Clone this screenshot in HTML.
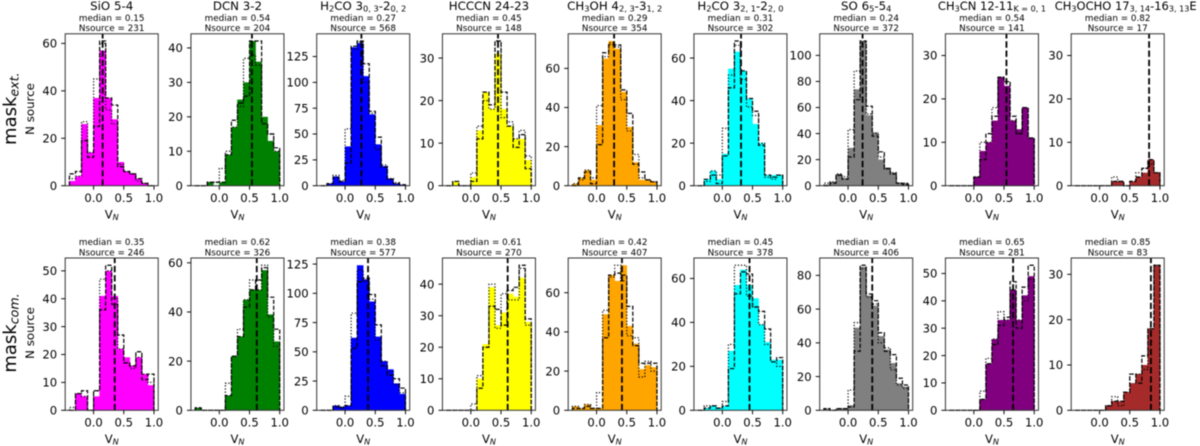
<!DOCTYPE html>
<html lang="en">
<head>
<meta charset="utf-8">
<title>V_N histograms by molecular line</title>
<style>
html,body{margin:0;padding:0;background:#fff;width:1200px;height:446px;overflow:hidden}
svg{display:block;filter:blur(0.5px)}
text{font-family:"DejaVu Sans","Liberation Sans",sans-serif;fill:#000}
</style>
</head>
<body>
<svg id="chart" xmlns="http://www.w3.org/2000/svg" width="1200" height="446" viewBox="0 0 1200 446"></svg>
<script>
// ---- categories ----
const lineTitles = ["SiO 5-4","DCN 3-2","H_{2}CO 3_{0, 3}-2_{0, 2}","HCCCN 24-23","CH_{3}OH 4_{2, 3}-3_{1, 2}","H_{2}CO 3_{2, 1}-2_{2, 0}","SO 6_{5}-5_{4}","CH_{3}CN 12-11_{K = 0, 1}","CH_{3}OCHO 17_{3, 14}-16_{3, 13}E"];
const lineColors = ["magenta","green","blue","yellow","orange","cyan","gray","purple","brown"];
const binEdges = [-0.4,-0.3,-0.2,-0.1,0,0.1,0.2,0.3,0.4,0.5,0.6,0.7,0.8,0.9,1.0];
const xTicks = [0,0.5,1];
const xTickLabels = ["0.0","0.5","1.0"];

// ---- printed values ----
const topMedians = [0.15,0.54,0.27,0.45,0.29,0.31,0.24,0.54,0.82];
const topNsource = [231,204,568,148,354,302,372,141,17];
const bottomMedians = [0.35,0.62,0.38,0.61,0.42,0.45,0.4,0.65,0.85];
const bottomNsource = [246,326,577,270,407,378,406,281,83];

// ---- y tick labels ----
const topYTicks = [[0,20,40,60],[0,10,20,30,40],[0,25,50,75,100,125],[0,10,20,30],[0,20,40,60],[0,20,40,60],[0,20,40,60,80,100],[0,10,20,30],[0,10,20,30]];
const bottomYTicks = [[0,10,20,30,40,50],[0,20,40,60],[0,25,50,75,100,125],[0,10,20,30,40],[0,20,40,60],[0,20,40,60],[0,20,40,60,80],[0,10,20,30,40,50],[0,10,20,30]];
const topYFloor = [0,0,0,0,0,0,0,35,35];
const bottomYFloor = [0,0,0,0,0,0,0,0,0];

// ---- top row counts (mask ext.) ----
const topFilled = [
 [2,4,26,14,37,57,37,28,10,6,5,3,1,0],
 [0,0,1,0,1,9,17,25,30,42,36,20,13,10],
 [0,2,9,4,38,134,138,106,69,40,19,7,2,1],
 [0,1,0,0,2,13,22,18,31,18,14,11,11,6],
 [1,4,8,3,31,65,74,70,48,30,12,3,3,2],
 [0,3,7,3,15,55,63,54,41,29,20,5,5,5],
 [1,3,9,6,29,74,110,54,41,20,14,10,2,2],
 [0,0,0,0,2,8,10,15,25,23,15,13,18,11],
 [0,0,0,0,0,0,1,1,0,1,2,3,6,3]
];
const topDashed = [
 [5,6,19,12,25,61,37,34,8,6,5,3,1,0],
 [0,0,1,1,1,9,19,24,26,42,42,18,15,11],
 [0,2,8,4,22,135,140,118,72,47,18,6,2,1],
 [0,1,0,0,1,11,22,19,34,22,14,9,12,4],
 [0,4,7,1,21,68,72,72,49,37,11,7,3,2],
 [0,3,5,1,14,46,68,54,41,35,19,5,4,5],
 [0,2,8,5,22,66,111,61,38,26,13,9,2,1],
 [0,0,0,0,2,6,12,16,25,24,16,12,18,11],
 [0,0,0,0,0,0,1,1,0,1,2,4,6,3]
];
const topDotted = [
 [3,4,27,14,45,60,32,26,9,6,5,2,1,0],
 [0,0,1,1,5,10,17,23,37,38,35,18,15,10],
 [0,2,10,5,55,132,139,100,70,35,20,7,3,1],
 [0,1,0,0,3,14,20,18,34,16,15,11,13,7],
 [1,3,8,4,41,66,73,71,44,28,16,4,3,2],
 [0,2,7,5,27,52,66,50,37,33,20,4,3,5],
 [2,3,9,7,43,88,110,55,40,22,13,10,2,2],
 [0,0,0,0,2,10,10,18,25,24,15,12,18,11],
 [0,0,0,0,0,0,2,1,0,1,3,4,5,3]
];

// ---- bottom row counts (mask com.) ----
const bottomFilled = [
 [0,6,5,0,5,41,50,41,22,19,16,19,13,9],
 [1,0,0,0,0,6,22,30,45,49,49,57,39,28],
 [0,0,4,3,4,62,124,112,93,63,42,35,23,14],
 [0,0,0,0,0,10,21,39,27,31,37,36,42,28],
 [2,1,3,1,1,49,69,66,74,43,34,21,23,22],
 [0,1,2,1,2,27,57,64,57,51,39,31,23,23],
 [1,0,1,1,3,49,85,68,62,44,36,28,16,14],
 [0,0,0,0,0,4,17,26,33,33,44,33,42,49],
 [0,0,0,0,0,1,2,2,4,6,8,10,18,32]
];
const bottomDashed = [
 [0,6,7,0,7,36,52,38,27,17,16,21,11,13],
 [1,0,0,0,0,6,22,30,42,49,53,58,46,33],
 [0,0,3,2,4,53,110,113,99,73,38,30,27,19],
 [0,0,0,0,0,7,20,33,32,27,38,39,46,29],
 [1,1,2,1,1,37,69,70,69,53,33,24,24,24],
 [0,1,2,1,2,19,53,63,62,47,45,37,22,24],
 [1,0,1,1,2,35,86,69,65,46,35,33,19,15],
 [0,0,0,0,0,4,17,24,31,34,47,30,45,53],
 [0,0,0,0,0,1,2,2,4,8,6,12,18,32]
];
const bottomDotted = [
 [1,6,5,0,7,47,50,40,22,17,15,19,13,10],
 [1,0,0,0,0,11,22,33,45,53,49,59,38,26],
 [0,0,4,3,12,83,120,110,95,60,42,33,22,15],
 [0,0,0,0,2,11,20,40,26,37,35,35,45,27],
 [2,1,3,1,9,51,68,74,66,38,37,17,25,20],
 [0,2,2,1,4,30,66,66,52,47,39,30,22,20],
 [1,0,1,1,12,52,84,67,63,40,37,24,15,13],
 [0,0,0,0,0,7,19,26,36,33,44,33,40,48],
 [0,0,0,0,0,1,3,1,4,8,8,9,18,32]
];

const SVGNS = "http://www.w3.org/2000/svg";
const chart = document.getElementById("chart");
const AX_LEFT = 65.2, AX_STEP = 125.75, AX_W = 93;
const X_MIN = -0.47, X_MAX = 1.07;
const TICK_FONT = 11.6;

function node(parent, tag, attrs) {
  const el = document.createElementNS(SVGNS, tag);
  for (const k in attrs) el.setAttribute(k, attrs[k]);
  parent.appendChild(el);
  return el;
}

// write "a_{b}c" as text with lowered, smaller tspans
function richText(el, str, size, italicSub) {
  const parts = str.split(/(_\{[^}]*\})/).filter(Boolean);
  let lowered = false;
  parts.forEach(function (p) {
    const span = document.createElementNS(SVGNS, "tspan");
    const isSub = p.indexOf("_{") === 0;
    span.textContent = isSub ? p.slice(2, -1) : p;
    const shift = size * 0.15;
    if (isSub) {
      span.setAttribute("font-size", (size * 0.7).toFixed(2));
      span.setAttribute("dy", shift.toFixed(2));
      if (italicSub) span.setAttribute("font-style", "italic");
      lowered = true;
    } else if (lowered) {
      span.setAttribute("dy", (-shift).toFixed(2));
      lowered = false;
    }
    el.appendChild(span);
  });
}

function stepPath(values, xScale, yScale) {
  let d = "M" + xScale(binEdges[0]).toFixed(2) + "," + yScale(0).toFixed(2);
  values.forEach(function (v, i) {
    d += "L" + xScale(binEdges[i]).toFixed(2) + "," + yScale(v).toFixed(2);
    d += "L" + xScale(binEdges[i + 1]).toFixed(2) + "," + yScale(v).toFixed(2);
  });
  d += "L" + xScale(binEdges[binEdges.length - 1]).toFixed(2) + "," + yScale(0).toFixed(2);
  return d;
}

function drawPanel(row, col, axTop, axBottom, filled, dashed, dotted, median, nsource, yTicks, yFloor, showTitle) {
  const left = AX_LEFT + col * AX_STEP;
  const right = left + AX_W;
  const maxVal = Math.max.apply(null, filled.concat(dashed, dotted));
  const yMax = Math.max(maxVal * 1.05, yFloor);
  const xScale = function (v) { return left + (v - X_MIN) / (X_MAX - X_MIN) * AX_W; };
  const yScale = function (v) { return axBottom - v / yMax * (axBottom - axTop); };

  const g = node(chart, "g", {});
  
  

  filled.forEach(function (v, i) {
    const bar = node(g, "rect", {
      x: (xScale(binEdges[i]) - 0.25).toFixed(2),
      y: yScale(v).toFixed(2),
      width: (xScale(binEdges[i + 1]) - xScale(binEdges[i]) + 0.5).toFixed(2),
      height: (axBottom - yScale(v)).toFixed(2),
      fill: lineColors[col]
    });
    
    
  });

  const dash = node(g, "path", {d: stepPath(dashed, xScale, yScale), fill: "none", stroke: "#000", "stroke-width": 1.2, "stroke-dasharray": "4.2 1.8"});
  
  

  const dot = node(g, "path", {d: stepPath(dotted, xScale, yScale), fill: "none", stroke: "#000", "stroke-width": 1.2, "stroke-dasharray": "1.2 1.9"});
  
  

  const med = node(g, "line", {x1: xScale(median).toFixed(2), x2: xScale(median).toFixed(2), y1: axBottom, y2: axTop, stroke: "#000", "stroke-width": 1.8, "stroke-dasharray": "6.4 2.8"});
  
  

  const frame = node(g, "rect", {x: left, y: axTop, width: AX_W, height: axBottom - axTop, fill: "none", stroke: "#333", "stroke-width": 1});
  
  

  xTicks.forEach(function (t, i) {
    const x = xScale(t);
    const tick = node(g, "line", {x1: x.toFixed(2), x2: x.toFixed(2), y1: axBottom, y2: axBottom + 4, stroke: "#000", "stroke-width": 0.95});
    
    
    const lab = node(g, "text", {x: x.toFixed(2), y: (axBottom + 16.4).toFixed(2), "text-anchor": "middle", "font-size": TICK_FONT});
    lab.textContent = xTickLabels[i];
    
    
  });

  yTicks.forEach(function (t) {
    const y = yScale(t);
    const tick = node(g, "line", {x1: left - 4, x2: left, y1: y.toFixed(2), y2: y.toFixed(2), stroke: "#000", "stroke-width": 0.95});
    
    
    const lab = node(g, "text", {x: left - 8, y: (y + 4.2).toFixed(2), "text-anchor": "end", "font-size": TICK_FONT});
    lab.textContent = String(t);
    
    
  });

  const xLabel = node(g, "text", {x: (left + right) / 2, y: (axBottom + 32.6).toFixed(2), "text-anchor": "middle", "font-size": TICK_FONT});
  richText(xLabel, "V_{N}", TICK_FONT, true);
  
  

  const cx = (left + right) / 2;
  const m = node(g, "text", {x: cx, y: axTop - 13, "text-anchor": "middle", "font-size": 8.8, fill: "#222"});
  m.textContent = "median = " + median;
  
  
  const n = node(g, "text", {x: cx, y: axTop - 2.6, "text-anchor": "middle", "font-size": 8.8, fill: "#222"});
  n.textContent = "Nsource = " + nsource;
  
  

  if (showTitle) {
    // the last panel's long title sits shifted right of its axes, as in the source figure
    const titleX = col === 8 ? cx + 8 : cx;
    const titleSize = col >= 7 ? 11.5 : 11.8;
    const title = node(g, "text", {x: titleX, y: axTop - 24, "text-anchor": "middle", "font-size": titleSize});
    richText(title, lineTitles[col], titleSize, false);
    
    
  }
}

for (let c = 0; c < 9; c++) {
  drawPanel("top", c, 33.8, 185.7, topFilled[c], topDashed[c], topDotted[c], topMedians[c], topNsource[c], topYTicks[c], topYFloor[c], true);
  drawPanel("bottom", c, 258, 410.3, bottomFilled[c], bottomDashed[c], bottomDotted[c], bottomMedians[c], bottomNsource[c], bottomYTicks[c], bottomYFloor[c], false);
}

function rowLabel(name, text, cy, sub) {
  const big = node(chart, "text", {transform: "translate(16,"+cy+") rotate(-90)", "text-anchor": "middle", "font-size": 18});
  richText(big, text, 18, true);
  
  
  const small = node(chart, "text", {transform: "translate(34,"+sub+") rotate(-90)", "text-anchor": "middle", "font-size": 11.8});
  small.textContent = "N source";
  
  
}
rowLabel("row-label-mask-ext", "mask_{ext.}", 108.7, 109);
rowLabel("row-label-mask-com", "mask_{com.}", 333, 333);
</script>
</body>
</html>
